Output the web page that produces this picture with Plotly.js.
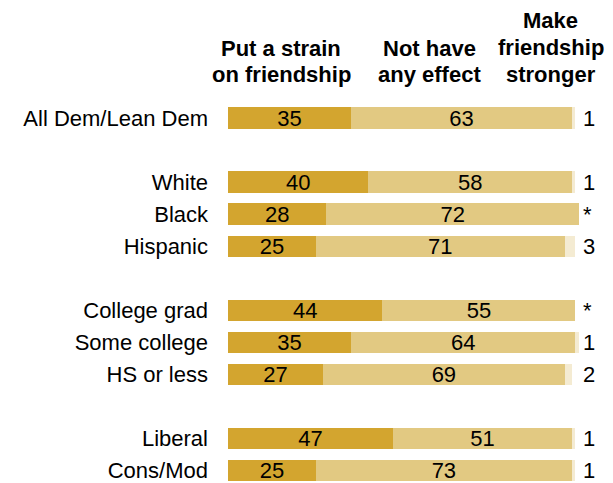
<!DOCTYPE html>
<html>
<head>
<meta charset="utf-8">
<script src="https://cdn.plot.ly/plotly-3.0.1.min.js"></script>
<style>html,body{margin:0;padding:0;background:#fff;}#chart{width:613px;height:483px;}</style>
</head>
<body>
<div id="chart"></div>
<script>
const groups = ["All Dem/Lean Dem","White","Black","Hispanic","College grad","Some college","HS or less","Liberal","Cons/Mod"];
const strain = [35,40,28,25,44,35,27,47,25];
const noEffect = [63,58,72,71,55,64,69,51,73];
const stronger = [1,1,0,3,0,1,2,1,1];
const strongerLabels = ["1","1","*","3","*","1","2","1","1"];
const rowOrder = ["All Dem/Lean Dem"," ","White","Black","Hispanic","  ","College grad","Some college","HS or less","   ","Liberal","Cons/Mod"];
const seriesNames = ["Put a strain on friendship","Not have any effect","Make friendship stronger"];
const headerLines = [["Put a strain","on friendship"],["Not have","any effect"],["Make","friendship","stronger"]];

const FONT = '"Liberation Sans", Arial, sans-serif';
const colors = ["#D3A52F","#E2C982","#F4EBD2"];
const vals = [strain, noEffect, stronger];

const traces = vals.map((v, i) => ({
  type: 'bar', orientation: 'h', name: seriesNames[i],
  y: groups, x: v,
  marker: {color: colors[i], line: {width: 0}},
  width: 0.66,
  texttemplate: i < 2 ? '%{x}' : '',
  textposition: i < 2 ? 'inside' : 'none',
  insidetextanchor: 'middle',
  textangle: 0,
  textfont: {family: FONT, size: 22, color: '#000'},
  constraintext: 'none',
  hoverinfo: 'skip'
}));

const annotations = [];
groups.forEach((g, i) => {
  annotations.push({
    x: 1, xref: 'paper', y: g, yref: 'y', xanchor: 'left', yanchor: 'middle',
    xshift: 2, text: strongerLabels[i], showarrow: false,
    font: {family: FONT, size: 22, color: '#000'}
  });
});
const headerX = [0.152, 0.573, 0.92];
const lineY = [[47, 73],[47, 73],[19, 46, 73]];
headerLines.forEach((lines, h) => {
  lines.forEach((t, j) => {
    annotations.push({
      x: headerX[h], xref: 'paper', y: 1, yref: 'paper', yanchor: 'middle', xanchor: 'center',
      yshift: 102 - lineY[h][j] - 1, text: '<b>' + t + '</b>', showarrow: false,
      font: {family: FONT, size: 22, color: '#000'}
    });
  });
});

const layout = {
  width: 613, height: 483,
  margin: {l: 228, r: 34, t: 102, b: 0, pad: 0},
  barmode: 'stack', bargap: 0,
  showlegend: false,
  paper_bgcolor: '#fff', plot_bgcolor: '#fff',
  xaxis: {range: [0, 100], visible: false, fixedrange: true},
  yaxis: {type: 'category', categoryorder: 'array', categoryarray: rowOrder,
          range: [11.4, -0.5], showgrid: false, zeroline: false, showline: false,
          ticks: '', ticklabelstandoff: 19,
          tickfont: {family: FONT, size: 22, color: '#000'}, fixedrange: true},
  annotations: annotations,
  font: {family: FONT}
};

Plotly.newPlot('chart', traces, layout, {displayModeBar: false, staticPlot: true});
</script>
</body>
</html>
